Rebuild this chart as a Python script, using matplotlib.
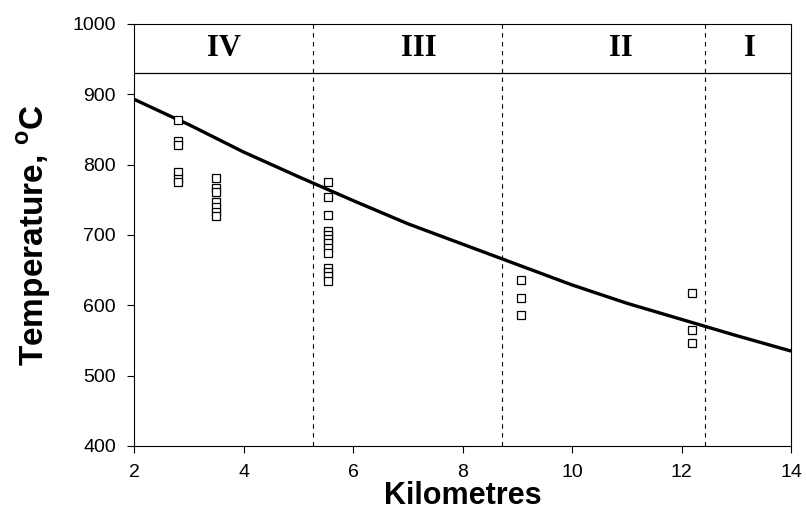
import matplotlib.pyplot as plt

# model curve
curve_km = [2, 2.8, 3, 4, 5, 6, 7, 8, 9, 10, 11, 12, 13, 14]
curve_t = [893, 864, 857, 818, 783, 749, 716, 687, 658, 629, 603, 580, 557, 535]

# measured points, grouped by distance
pts_km = ([2.8] * 6 + [3.5] * 7 + [5.55] * 13 + [9.07] * 3 + [12.2] * 3)
pts_t = ([864, 834, 828, 790, 780, 775]
         + [781, 767, 761, 747, 740, 733, 727]
         + [776, 754, 728, 706, 700, 694, 688, 681, 675, 653, 648, 642, 634]
         + [636, 610, 586]
         + [618, 565, 546])

zone_bounds = [5.26, 8.73, 12.43]
zone_names = ['IV', 'III', 'II', 'I']
zone_x = [3.65, 7.2, 10.9, 13.25]
zone_line = 930

fig = plt.figure(figsize=(8.06, 5.24), dpi=100)
ax = fig.add_axes([0.1663, 0.1489, 0.8151, 0.8053])

ax.plot(curve_km, curve_t, color='black', linewidth=2.4)
ax.plot(pts_km, pts_t, linestyle='none', marker='s', markersize=6,
        markerfacecolor='white', markeredgecolor='black', markeredgewidth=0.9)

for b in zone_bounds:
    ax.axvline(b, color='black', linestyle=(0, (4, 4)), linewidth=0.8)
ax.axhline(zone_line, color='black', linewidth=0.9)
for name, x in zip(zone_names, zone_x):
    ax.text(x, 965, name, ha='center', va='center', fontsize=22,
            fontweight='bold', family='Liberation Serif')

ax.set_xlim(2, 14)
ax.set_ylim(400, 1000)
ax.set_xticks(range(2, 15, 2))
ax.set_yticks(range(400, 1001, 100))
ax.tick_params(labelsize=14, direction='out', length=5, pad=8)
for lab in ax.get_xticklabels() + ax.get_yticklabels():
    lab.set_family('Liberation Sans')

ax.set_xlabel('Kilometres', fontsize=22, fontweight='bold',
              family='Liberation Sans', labelpad=0)
ax.set_ylabel('Temperature, $^{\\mathregular{o}}$C', fontsize=24,
              fontweight='bold', family='Liberation Sans', labelpad=14)

fig.savefig('out.png', dpi=100)
